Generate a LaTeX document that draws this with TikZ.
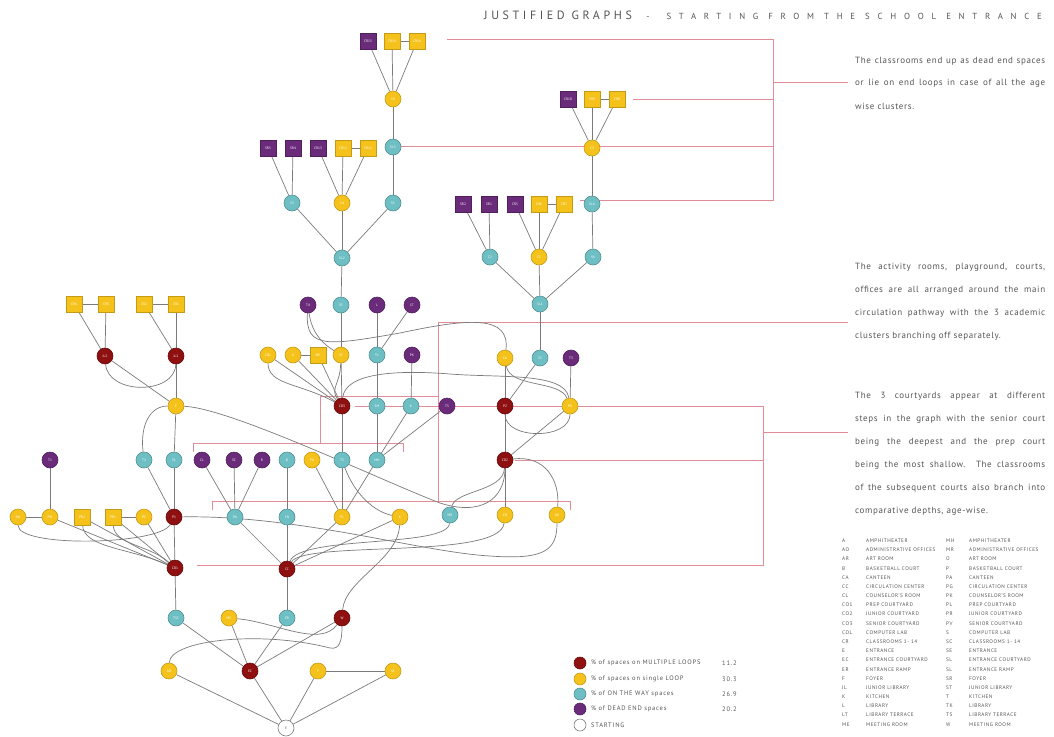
\documentclass[tikz,border=0pt]{standalone}
\usepackage{fontspec}
\setmainfont{PT Sans}
\usetikzlibrary{calc}
\pgfdeclarelayer{background}
\pgfsetlayers{background,main}
\definecolor{cred}{HTML}{8E1010}
\definecolor{cyel}{HTML}{F5C21B}
\definecolor{cteal}{HTML}{6DBFC4}
\definecolor{cpur}{HTML}{6A2B7A}
\definecolor{egray}{HTML}{7A7A7A}
\definecolor{cpink}{HTML}{E28C98}
\definecolor{tgray}{HTML}{555555}
\newcommand\mylab{\fontsize{3.5}{4}\selectfont}
\newcommand\jline[1]{\makebox[190pt][s]{#1}}
\tikzset{
 base/.style={inner sep=0pt,minimum size=16pt,line width=0.6pt,text=white,font=\mylab},
 rn/.style={base,circle,fill=cred,draw=cred!75!black},
 yn/.style={base,circle,fill=cyel,draw=cyel!80!black},
 tn/.style={base,circle,fill=cteal,draw=cteal!75!black},
 pn/.style={base,circle,fill=cpur,draw=cpur!75!black},
 ys/.style={base,rectangle,fill=cyel,draw=cyel!80!black},
 ps/.style={base,rectangle,fill=cpur,draw=cpur!75!black},
 wn/.style={base,circle,fill=white,draw=egray,text=tgray},
 ed/.style={draw=egray,line width=0.7pt},
 pinkline/.style={draw=cpink,line width=0.7pt},
 para/.style={anchor=west,inner sep=0pt,text=tgray,font=\fontsize{9}{10}\selectfont\addfontfeature{LetterSpace=7}},
 legt/.style={anchor=west,inner sep=0pt,text=tgray,font=\fontsize{6.5}{7}\selectfont\addfontfeature{LetterSpace=12}},
 tabt/.style={anchor=west,inner sep=0pt,text=tgray,font=\fontsize{5.2}{6}\selectfont\addfontfeature{LetterSpace=10}},
 legc/.style={circle,minimum size=12pt,inner sep=0pt,line width=0.6pt},
}
\begin{document}
\begin{tikzpicture}[x=1pt,y=-1pt]
\useasboundingbox (0,0) rectangle (1054,736);
% ---------- nodes ----------
\node[ps] (cr15) at (368,41) {CR15};
\node[ys] (cr14) at (392,41) {CR14};
\node[ys] (cr16) at (417,41) {CR16};
\node[yn] (c6) at (393,99) {C6};
\node[tn] (sl3) at (393,147) {SL3};
\node[ps] (sr5) at (268,148) {SR5};
\node[ps] (sr4) at (293,148) {SR4};
\node[ps] (cr13) at (318,148) {CR13};
\node[ys] (cr12) at (343,148) {CR12};
\node[ys] (cr11) at (368,148) {CR11};
\node[tn] (c5) at (292,203) {C5};
\node[yn] (c4) at (342,203) {C4};
\node[tn] (s5) at (393,203) {S5};
\node[tn] (sl2) at (342,258) {SL2};
\node[ps] (cr10) at (568,99) {CR10};
\node[ys] (cr9) at (592,99) {CR9};
\node[ys] (cr8) at (617,99) {CR8};
\node[yn] (c3) at (592,148) {C3};
\node[ps] (sr2) at (463,204) {SR2};
\node[ps] (sr1) at (489,204) {SR1};
\node[ps] (cr5) at (515,204) {CR5};
\node[ys] (cr6) at (539,204) {CR6};
\node[ys] (cr7) at (564,204) {CR7};
\node[tn] (sl4) at (592,204) {SL4};
\node[tn] (c2) at (490,257) {C2};
\node[yn] (c1) at (539,257) {C1};
\node[tn] (s4) at (593,257) {S4};
\node[tn] (sl1) at (540,304) {SL1};
\node[pn] (t4) at (308,305) {T4};
\node[tn] (s3) at (341,305) {S3};
\node[pn] (l) at (377,305) {L};
\node[pn] (lt) at (412,305) {LT};
\node[yn] (col) at (268,355) {COL};
\node[yn] (a) at (293,355) {A};
\node[ys] (me) at (318,355) {ME};
\node[yn] (st) at (341,355) {ST};
\node[tn] (tl) at (377,355) {TL};
\node[pn] (pkn) at (412,355) {PK};
\node[yn] (ca) at (505,358) {CA};
\node[tn] (s2) at (540,358) {S2};
\node[pn] (t3) at (571,358) {T3};
\node[rn] (co3) at (342,406) {CO3};
\node[tn] (sm) at (377,406) {SM};
\node[tn] (kn) at (411,406) {K};
\node[pn] (t5) at (447,406) {T5};
\node[rn] (p2) at (505,406) {P2};
\node[yn] (pr) at (570,406) {PR};
\node[ys] (cr4) at (74,304) {CR4};
\node[ys] (cr3) at (106,304) {CR3};
\node[ys] (cr2) at (144,304) {CR2};
\node[ys] (cr1) at (176,304) {CR1};
\node[rn] (jl2) at (105,356) {JL2};
\node[rn] (jl1) at (176,356) {JL1};
\node[yn] (f) at (176,406) {F};
\node[pn] (t1) at (50,460) {T1};
\node[tn] (t2) at (144,460) {T2};
\node[tn] (s1) at (174,460) {S1};
\node[pn] (cl) at (202,460) {CL};
\node[pn] (sc) at (234,460) {SC};
\node[pn] (r) at (262,460) {R};
\node[tn] (b) at (287,460) {B};
\node[yn] (pg) at (312,460) {PG};
\node[tn] (ts) at (342,460) {TS};
\node[tn] (mh) at (377,460) {MH};
\node[rn] (co2) at (505,460) {CO2};
\node[yn] (sw) at (18,517) {SW};
\node[yn] (pm) at (50,517) {PM};
\node[ys] (pr2) at (82,517) {PR2};
\node[ys] (pr1) at (113,517) {PR1};
\node[yn] (pc) at (144,517) {PC};
\node[rn] (p1) at (174,517) {P1};
\node[tn] (pa) at (235,517) {PA};
\node[tn] (cn) at (287,517) {CN};
\node[yn] (pl) at (342,517) {PL};
\node[yn] (kk) at (400,517) {K};
\node[tn] (mr) at (450,515) {MR};
\node[yn] (cx) at (505,515) {CO};
\node[yn] (ar) at (557,515) {AR};
\node[rn] (co1) at (175,568) {CO1};
\node[rn] (cc) at (287,569) {CC};
\node[tn] (tsc) at (176,618) {TSC};
\node[yn] (ms) at (229,618) {MS};
\node[tn] (er) at (287,618) {ER};
\node[rn] (w) at (342,618) {W};
\node[yn] (ao) at (169,671) {AO};
\node[rn] (ec) at (250,671) {EC};
\node[yn] (fy) at (318,671) {F};
\node[yn] (se) at (393,671) {SE};
\node[wn] (e) at (286,728) {E};
% ---------- connector anchors for pink lines ----------
\coordinate (pa1) at (447,39);  \coordinate (pb1) at (773,39);
\coordinate (pa2) at (633,99);  \coordinate (pb2) at (773,99);
\coordinate (pa3) at (401,146); \coordinate (pb3) at (773,146);
\coordinate (pa4) at (580,200); \coordinate (pb4) at (773,200);
\coordinate (pm1) at (773,82);  \coordinate (pt1) at (848,82);
\coordinate (q1) at (438,322);  \coordinate (qt) at (848,322);
\coordinate (q2) at (438,501);  \coordinate (q3) at (438,396); \coordinate (q4) at (320,396);
\coordinate (q5) at (320,443);
\coordinate (b1a) at (193,452); \coordinate (b1b) at (193,443); \coordinate (b1c) at (403,443); \coordinate (b1d) at (403,452);
\coordinate (b2a) at (212,510); \coordinate (b2b) at (212,501); \coordinate (b2c) at (570,501); \coordinate (b2d) at (570,510);
\coordinate (r1) at (355,406); \coordinate (r2) at (763,406);
\coordinate (r3) at (515,460); \coordinate (r4) at (763,460);
\coordinate (r5) at (197,565); \coordinate (r6) at (763,565);
\coordinate (r7) at (763,432); \coordinate (rt) at (848,432);
\begin{pgfonlayer}{background}
% pink reference lines
\draw[pinkline] (pa1) -- (pb1) -- (pb4) -- (pa4);
\draw[pinkline] (pa2) -- (pb2);
\draw[pinkline] (pa3) -- (pb3);
\draw[pinkline] (pm1) -- (pt1);
\draw[pinkline] (qt) -- (q1) -- (q2);
\draw[pinkline] (q3) -- (q4) -- (q5);
\draw[pinkline] (b1a) -- (b1b) -- (b1c) -- (b1d);
\draw[pinkline] (b2a) -- (b2b) -- (b2c) -- (b2d);
\draw[pinkline] (r1) -- (r2) -- (r6) -- (r5);
\draw[pinkline] (r3) -- (r4);
\draw[pinkline] (r7) -- (rt);
% top cluster 1
\draw[ed] (cr15) -- (c6); \draw[ed] (cr14) -- (c6); \draw[ed] (cr16) -- (c6); \draw[ed] (cr14) -- (cr16);
\draw[ed] (c6) -- (sl3); \draw[ed] (sl3) -- (s5);
\draw[ed] (sr5) -- (c5); \draw[ed] (sr4) -- (c5);
\draw[ed] (cr13) -- (c4); \draw[ed] (cr12) -- (c4); \draw[ed] (cr11) -- (c4); \draw[ed] (cr12) -- (cr11);
\draw[ed] (c5) -- (sl2); \draw[ed] (c4) -- (sl2); \draw[ed] (s5) -- (sl2);
\draw[ed] (sl2) -- (s3);
% top cluster 2
\draw[ed] (cr10) -- (c3); \draw[ed] (cr9) -- (c3); \draw[ed] (cr8) -- (c3); \draw[ed] (cr9) -- (cr8);
\draw[ed] (c3) -- (sl4); \draw[ed] (sl4) -- (s4);
\draw[ed] (sr2) -- (c2); \draw[ed] (sr1) -- (c2);
\draw[ed] (cr5) -- (c1); \draw[ed] (cr6) -- (c1); \draw[ed] (cr7) -- (c1); \draw[ed] (cr6) -- (cr7);
\draw[ed] (c2) -- (sl1); \draw[ed] (c1) -- (sl1); \draw[ed] (s4) -- (sl1);
\draw[ed] (sl1) -- (s2);
% middle
\draw[ed] (s3) -- (st); \draw[ed] (l) -- (tl); \draw[ed] (lt) -- (tl);
\draw[ed] (t4) .. controls (312,335) and (325,345) .. (st);
\draw[ed] (t4) .. controls (305,350) and (330,345) .. (400,333) .. controls (470,318) and (510,315) .. (ca);
\draw[ed] (tl) -- (sm); \draw[ed] (pkn) -- (kn);
\draw[ed] (col) -- (co3);
\draw[ed] (col) .. controls (268,385) and (300,383) .. (co3);
\draw[ed] (a) -- (me); \draw[ed] (a) -- (co3); \draw[ed] (me) -- (co3); \draw[ed] (st) -- (co3);
\draw[ed] (st) .. controls (340,385) and (330,388) .. (co3);
\draw[ed] (co3) .. controls (345,372) and (400,370) .. (450,374) .. controls (500,378) and (565,372) .. (pr);
\draw[ed] (ca) .. controls (510,388) and (560,380) .. (pr);
\draw[ed] (ca) -- (p2); \draw[ed] (s2) -- (p2); \draw[ed] (t3) -- (pr);
\draw[ed] (p2) .. controls (505,440) and (570,440) .. (pr);
\draw[ed] (pr) -- (co2); \draw[ed] (p2) -- (co2);
\draw[ed] (co3) -- (ts); \draw[ed] (sm) -- (mh); \draw[ed] (kn) -- (mh); \draw[ed] (t5) -- (mh);
% left
\draw[ed] (cr4) -- (cr3); \draw[ed] (cr4) -- (jl2); \draw[ed] (cr3) -- (jl2);
\draw[ed] (cr2) -- (cr1); \draw[ed] (cr2) -- (jl1); \draw[ed] (cr1) -- (jl1);
\draw[ed] (jl2) -- (f);
\draw[ed] (jl2) .. controls (108,395) and (175,395) .. (jl1);
\draw[ed] (jl1) -- (f); \draw[ed] (f) -- (s1);
\draw[ed] (f) .. controls (150,406) and (140,425) .. (t2);
\draw[ed] (f) .. controls (230,408) and (380,480) .. (440,503) .. controls (480,516) and (505,500) .. (co2);
\draw[ed] (s1) -- (p1); \draw[ed] (t2) -- (p1); \draw[ed] (p1) -- (co1);
\draw[ed] (t1) -- (pm); \draw[ed] (sw) -- (pm);
\draw[ed] (sw) .. controls (18,548) and (160,545) .. (p1);
\draw[ed] (pm) -- (co1); \draw[ed] (pc) -- (co1); \draw[ed] (pr1) -- (pc);
\draw[ed] (pr2) -- (co1);
\draw[ed] (pr2) .. controls (84,548) and (130,548) .. (co1);
\draw[ed] (pr1) -- (co1);
\draw[ed] (pr1) .. controls (114,545) and (150,545) .. (co1);
\draw[ed] (p1) .. controls (300,515) and (420,552) .. (490,556) .. controls (545,560) and (557,550) .. (ar);
\draw[ed] (cl) -- (pa); \draw[ed] (sc) -- (pa); \draw[ed] (r) -- (pa); \draw[ed] (pa) -- (cc);
\draw[ed] (b) -- (cn); \draw[ed] (cn) -- (cc);
\draw[ed] (pg) -- (pl); \draw[ed] (ts) -- (pl); \draw[ed] (mh) -- (pl);
\draw[ed] (ts) .. controls (355,495) and (375,512) .. (kk);
\draw[ed] (pl) -- (cc); \draw[ed] (kk) -- (cc);
\draw[ed] (co2) .. controls (503,492) and (455,490) .. (mr);
\draw[ed] (co2) -- (cx);
\draw[ed] (co2) .. controls (545,455) and (560,480) .. (ar);
\draw[ed] (cc) .. controls (300,535) and (448,548) .. (mr);
\draw[ed] (cc) .. controls (305,540) and (500,560) .. (cx);
% bottom
\draw[ed] (co1) -- (tsc); \draw[ed] (cc) -- (er);
\draw[ed] (w) .. controls (345,580) and (398,560) .. (kk);
\draw[ed] (tsc) -- (ec); \draw[ed] (ms) -- (ec); \draw[ed] (er) -- (ec); \draw[ed] (w) -- (ec);
\draw[ed] (ms) .. controls (275,622) and (320,648) .. (w);
\draw[ed] (ao) .. controls (170,640) and (260,630) .. (330,648) .. controls (340,650) and (342,640) .. (w);
\draw[ed] (ao) -- (e); \draw[ed] (ec) -- (e); \draw[ed] (fy) -- (e); \draw[ed] (se) -- (e); \draw[ed] (fy) -- (se);
\end{pgfonlayer}
% ---------- title ----------
\node[anchor=west,inner sep=0pt,text=tgray,font=\fontsize{12}{13}\selectfont\addfontfeature{LetterSpace=30}] (title1) at (484,15) {JUSTIFIED GRAPHS};
\node[anchor=east,inner sep=0pt,text=tgray,font=\fontsize{8.8}{9}\selectfont\addfontfeature{LetterSpace=88}] (title2) at (1042,16) {-\hspace{7pt} STARTING FROM THE SCHOOL ENTRANCE};
% ---------- paragraphs ----------
\node[para] (p1a) at (855,61) {\jline{The classrooms end up as dead end spaces}};
\node[para] (p1b) at (855,83) {\jline{or lie on end loops in case of all the age}};
\node[para] (p1c) at (855,106) {wise clusters.};
\node[para] (p2a) at (855,267) {\jline{The activity rooms, playground, courts,}};
\node[para] (p2b) at (855,290) {\jline{offices are all arranged around the main}};
\node[para] (p2c) at (855,313) {\jline{circulation pathway with the 3 academic}};
\node[para] (p2d) at (855,336) {clusters branching off separately.};
\node[para] (p3a) at (855,396) {\jline{The 3 courtyards appear at different}};
\node[para] (p3b) at (855,419) {\jline{steps in the graph with the senior court}};
\node[para] (p3c) at (855,442) {\jline{being the deepest and the prep court}};
\node[para] (p3d) at (855,465) {\jline{being the most shallow. The classrooms}};
\node[para] (p3e) at (855,488) {\jline{of the subsequent courts also branch into}};
\node[para] (p3f) at (855,511) {comparative depths, age-wise.};
% ---------- legend ----------
\node[legc,fill=cred,draw=cred!75!black] (lg1) at (580,663) {};
\node[legc,fill=cyel,draw=cyel!80!black] (lg2) at (580,679) {};
\node[legc,fill=cteal,draw=cteal!75!black] (lg3) at (580,694) {};
\node[legc,fill=cpur,draw=cpur!75!black] (lg4) at (580,709) {};
\node[legc,fill=white,draw=egray] (lg5) at (580,725) {};
\node[legt] (lt1) at (591,663) {\% of spaces on MULTIPLE LOOPS};
\node[legt] (lt2) at (591,679) {\% of spaces on single LOOP};
\node[legt] (lt3) at (591,694) {\% of ON THE WAY spaces};
\node[legt] (lt4) at (591,709) {\% of DEAD END spaces};
\node[legt] (lt5) at (591,725) {STARTING};
\node[legt] (lv1) at (722,663) {11.2};
\node[legt] (lv2) at (722,679) {30.3};
\node[legt] (lv3) at (722,694) {26.9};
\node[legt] (lv4) at (722,709) {20.2};
% ---------- abbreviation table ----------
\foreach \ab/\nm [count=\i from 0] in {A/AMPHITHEATER,AO/ADMINISTRATIVE OFFICES,AR/ART ROOM,B/BASKETBALL COURT,CA/CANTEEN,CC/CIRCULATION CENTER,CL/COUNSELOR'S ROOM,CO1/PREP COURTYARD,CO2/JUNIOR COURTYARD,CO3/SENIOR COURTYARD,COL/COMPUTER LAB,CR/CLASSROOMS 1- 14,E/ENTRANCE,EC/ENTRANCE COURTYARD,ER/ENTRANCE RAMP,F/FOYER,JL/JUNIOR LIBRARY,K/KITCHEN,L/LIBRARY,LT/LIBRARY TERRACE,ME/MEETING ROOM}{
  \node[tabt] (ta\i) at (842,{540.7+9.18*\i}) {\ab};
  \node[tabt] (tn\i) at (866,{540.7+9.18*\i}) {\nm};
}
\foreach \ab/\nm [count=\i from 0] in {MH/AMPHITHEATER,MR/ADMINISTRATIVE OFFICES,O/ART ROOM,P/BASKETBALL COURT,PA/CANTEEN,PG/CIRCULATION CENTER,PK/COUNSELOR'S ROOM,PL/PREP COURTYARD,PR/JUNIOR COURTYARD,PV/SENIOR COURTYARD,S/COMPUTER LAB,SC/CLASSROOMS 1- 14,SE/ENTRANCE,SL/ENTRANCE COURTYARD,SL/ENTRANCE RAMP,SR/FOYER,ST/JUNIOR LIBRARY,T/KITCHEN,TK/LIBRARY,TS/LIBRARY TERRACE,W/MEETING ROOM}{
  \node[tabt] (tb\i) at (946,{540.7+9.18*\i}) {\ab};
  \node[tabt] (tm\i) at (969,{540.7+9.18*\i}) {\nm};
}
\end{tikzpicture}
\end{document}
